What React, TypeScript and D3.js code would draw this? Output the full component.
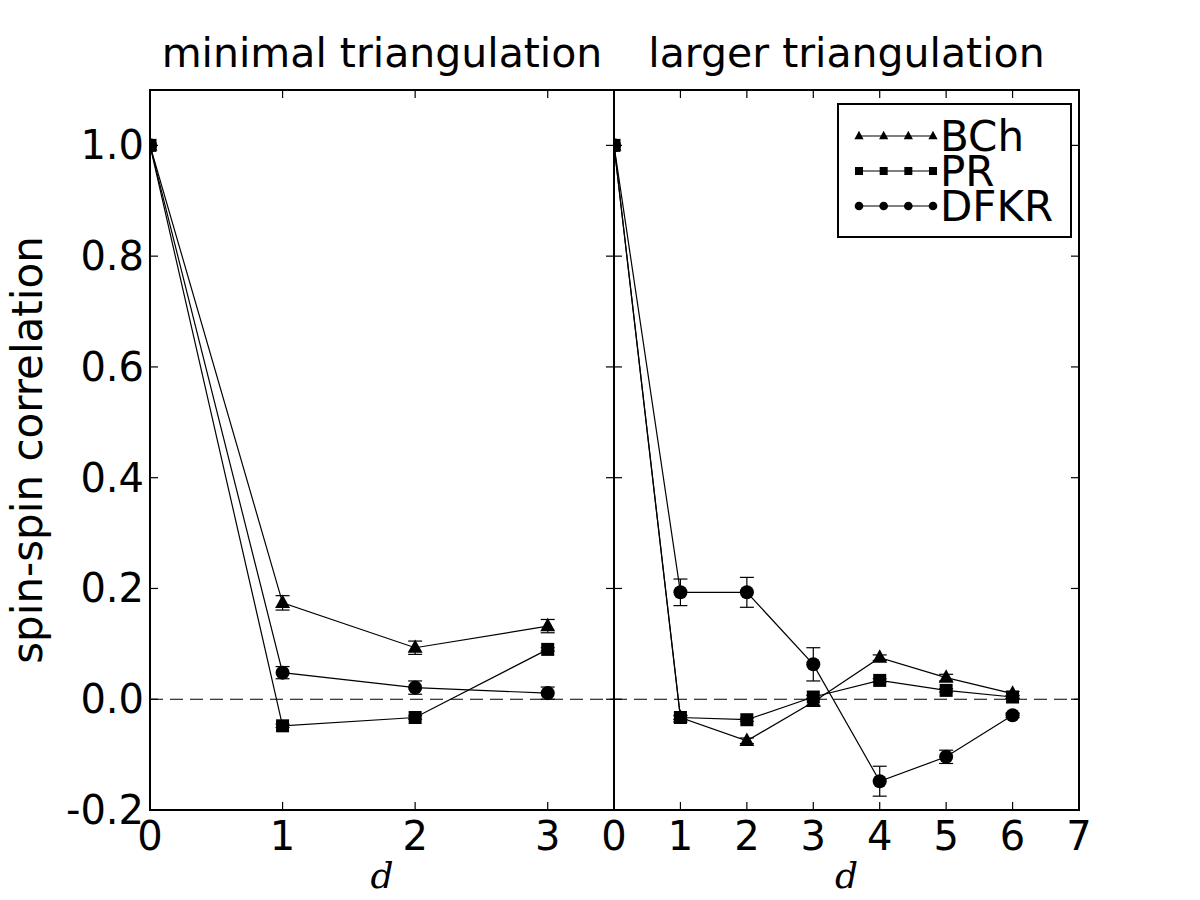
import React, { useRef, useEffect } from "react";
import * as d3 from "d3";

// distance d (x values)
const leftD = [0, 1, 2, 3];
const rightD = [0, 1, 2, 3, 4, 5, 6];

// minimal triangulation
const leftBCh = [1.0, 0.174, 0.093, 0.132];
const leftBChErr = [0, 0.013, 0.012, 0.012];
const leftPR = [1.0, -0.048, -0.033, 0.09];
const leftPRErr = [0, 0.003, 0.003, 0.003];
const leftDFKR = [1.0, 0.048, 0.021, 0.011];
const leftDFKRErr = [0, 0.011, 0.012, 0.011];

// larger triangulation
const rightBCh = [1.0, -0.033, -0.075, -0.005, 0.075, 0.039, 0.01];
const rightBChErr = [0, 0.004, 0.005, 0.006, 0.005, 0.006, 0.004];
const rightPR = [1.0, -0.033, -0.037, 0.004, 0.034, 0.016, 0.004];
const rightPRErr = [0, 0.003, 0.003, 0.003, 0.003, 0.003, 0.003];
const rightDFKR = [1.0, 0.193, 0.193, 0.063, -0.148, -0.104, -0.029];
const rightDFKRErr = [0, 0.024, 0.027, 0.03, 0.027, 0.012, 0.004];

const yTicks = [-0.2, 0.0, 0.2, 0.4, 0.6, 0.8, 1.0];
const leftXTicks = [0, 1, 2, 3];
const rightXTicks = [0, 1, 2, 3, 4, 5, 6, 7];

const seriesNames = ["BCh", "PR", "DFKR"];
const markerTypes = ["triangle", "square", "circle"];

const FONT = "'DejaVu Sans', sans-serif";

export default function App() {
  const svgRef = useRef<SVGSVGElement>(null);

  useEffect(() => {
    if (!svgRef.current) return;
    const svg = d3.select(svgRef.current);
    svg.selectAll("*").remove();

    const top = 90;
    const bottom = 810;
    const yScale = d3.scaleLinear().domain([-0.2, 1.1]).range([bottom, top]);

    const drawMarker = (
      g: d3.Selection<SVGGElement, unknown, null, undefined>,
      type: string,
      x: number,
      y: number,
      size: number
    ) => {
      if (type === "square") {
        g.append("rect")
          .attr("x", x - size / 2)
          .attr("y", y - size / 2)
          .attr("width", size)
          .attr("height", size)
          .attr("fill", "#000");
      } else if (type === "circle") {
        g.append("circle").attr("cx", x).attr("cy", y).attr("r", size * 0.54).attr("fill", "#000");
      } else {
        const s = size * 1.15;
        const h = s * 0.9;
        g.append("path")
          .attr("d", `M${x},${y - h * 0.62}L${x + s / 2},${y + h * 0.38}L${x - s / 2},${y + h * 0.38}Z`)
          .attr("fill", "#000");
      }
    };

    const panels = [
      {
        id: "left",
        x0: 150,
        x1: 614,
        domain: [0, 3.5],
        d: leftD,
        ticks: leftXTicks,
        title: "minimal triangulation",
        series: [
          { v: leftBCh, e: leftBChErr },
          { v: leftPR, e: leftPRErr },
          { v: leftDFKR, e: leftDFKRErr },
        ],
      },
      {
        id: "right",
        x0: 614,
        x1: 1079,
        domain: [0, 7],
        d: rightD,
        ticks: rightXTicks,
        title: "larger triangulation",
        series: [
          { v: rightBCh, e: rightBChErr },
          { v: rightPR, e: rightPRErr },
          { v: rightDFKR, e: rightDFKRErr },
        ],
      },
    ];

    panels.forEach((p, pi) => {
      const xScale = d3.scaleLinear().domain(p.domain).range([p.x0, p.x1]);

      svg.append("clipPath")
        .attr("id", `clip-${p.id}`)
        .append("rect")
        .attr("x", p.x0)
        .attr("y", top)
        .attr("width", p.x1 - p.x0)
        .attr("height", bottom - top);

      const plot = svg.append("g").attr("clip-path", `url(#clip-${p.id})`);

      // zero reference line
      plot.append("line")
        .attr("x1", p.x0)
        .attr("x2", p.x1)
        .attr("y1", yScale(0))
        .attr("y2", yScale(0))
        .attr("stroke", "#000")
        .attr("stroke-width", 1.2)
        .attr("stroke-dasharray", "13,7");

      const line = d3.line<number>()
        .x((_, i) => xScale(p.d[i]))
        .y(v => yScale(v));

      p.series.forEach((s, si) => {
        plot.append("path")
          .datum(s.v)
          .attr("fill", "none")
          .attr("stroke", "#000")
          .attr("stroke-width", 1.2)
          .attr("d", line);

        s.v.forEach((v, i) => {
          const err = s.e[i];
          if (err > 0) {
            const cx = xScale(p.d[i]);
            plot.append("line")
              .attr("x1", cx).attr("x2", cx)
              .attr("y1", yScale(v - err)).attr("y2", yScale(v + err))
              .attr("stroke", "#000").attr("stroke-width", 1.2);
            [v - err, v + err].forEach(ev => {
              plot.append("line")
                .attr("x1", cx - 7).attr("x2", cx + 7)
                .attr("y1", yScale(ev)).attr("y2", yScale(ev))
                .attr("stroke", "#000").attr("stroke-width", 1.2);
            });
          }
          drawMarker(plot, markerTypes[si], xScale(p.d[i]), yScale(v), 13);
        });
      });

      // ticks (inside, all sides)
      const tl = 8;
      const ax = svg.append("g");
      p.ticks.forEach(t => {
        const x = xScale(t);
        ax.append("line").attr("x1", x).attr("x2", x).attr("y1", bottom).attr("y2", bottom - tl)
          .attr("stroke", "#000").attr("stroke-width", 1.2);
        ax.append("line").attr("x1", x).attr("x2", x).attr("y1", top).attr("y2", top + tl)
          .attr("stroke", "#000").attr("stroke-width", 1.2);
        ax.append("text")
          .attr("x", x)
          .attr("y", bottom + 40)
          .attr("text-anchor", "middle")
          .style("font-family", FONT)
          .style("font-size", "40px")
          .text(`${t}`);
      });
      yTicks.forEach(t => {
        const y = yScale(t);
        ax.append("line").attr("x1", p.x0).attr("x2", p.x0 + tl).attr("y1", y).attr("y2", y)
          .attr("stroke", "#000").attr("stroke-width", 1.2);
        ax.append("line").attr("x1", p.x1).attr("x2", p.x1 - tl).attr("y1", y).attr("y2", y)
          .attr("stroke", "#000").attr("stroke-width", 1.2);
        if (pi === 0) {
          ax.append("text")
            .attr("x", p.x0 - 6)
            .attr("y", y + 14)
            .attr("text-anchor", "end")
            .style("font-family", FONT)
            .style("font-size", "40px")
            .text(t.toFixed(1));
        }
      });

      // frame
      ax.append("rect")
        .attr("x", p.x0).attr("y", top)
        .attr("width", p.x1 - p.x0).attr("height", bottom - top)
        .attr("fill", "none").attr("stroke", "#000").attr("stroke-width", 2);

      // title
      ax.append("text")
        .attr("x", (p.x0 + p.x1) / 2)
        .attr("y", 67)
        .attr("text-anchor", "middle")
        .style("font-family", FONT)
        .style("font-size", "41px")
        .text(p.title);

      // x label
      ax.append("text")
        .attr("x", (p.x0 + p.x1) / 2)
        .attr("y", 888)
        .attr("text-anchor", "middle")
        .style("font-family", "'DejaVu Serif', serif")
        .style("font-style", "italic")
        .style("font-size", "36px")
        .text("d");
    });

    // y label
    svg.append("text")
      .attr("transform", `translate(42,${(top + bottom) / 2}) rotate(-90)`)
      .attr("text-anchor", "middle")
      .style("font-family", FONT)
      .style("font-size", "42px")
      .text("spin-spin correlation");

    // legend
    const lg = svg.append("g");
    lg.append("rect")
      .attr("x", 838).attr("y", 104).attr("width", 233).attr("height", 133)
      .attr("fill", "#fff").attr("stroke", "#000").attr("stroke-width", 2);
    const legendX = d3.scaleLinear().domain([0, 3]).range([859, 933]);
    const legendY = d3.scalePoint<string>().domain(seriesNames).range([136, 206]);
    seriesNames.forEach((name, i) => {
      const y = legendY(name) as number;
      lg.append("line")
        .attr("x1", legendX(0)).attr("x2", legendX(3))
        .attr("y1", y).attr("y2", y)
        .attr("stroke", "#000").attr("stroke-width", 1.2);
      [0, 1, 2, 3].forEach(k => drawMarker(lg, markerTypes[i], legendX(k), y, 8));
      lg.append("text")
        .attr("x", 940)
        .attr("y", y + 15)
        .style("font-family", FONT)
        .style("font-size", "42px")
        .text(name);
    });
  }, []);

  return (
    <svg
      ref={svgRef}
      width={1200}
      height={900}
      style={{ position: "absolute", left: 0, top: 0, background: "#fff" }}
    />
  );
}
